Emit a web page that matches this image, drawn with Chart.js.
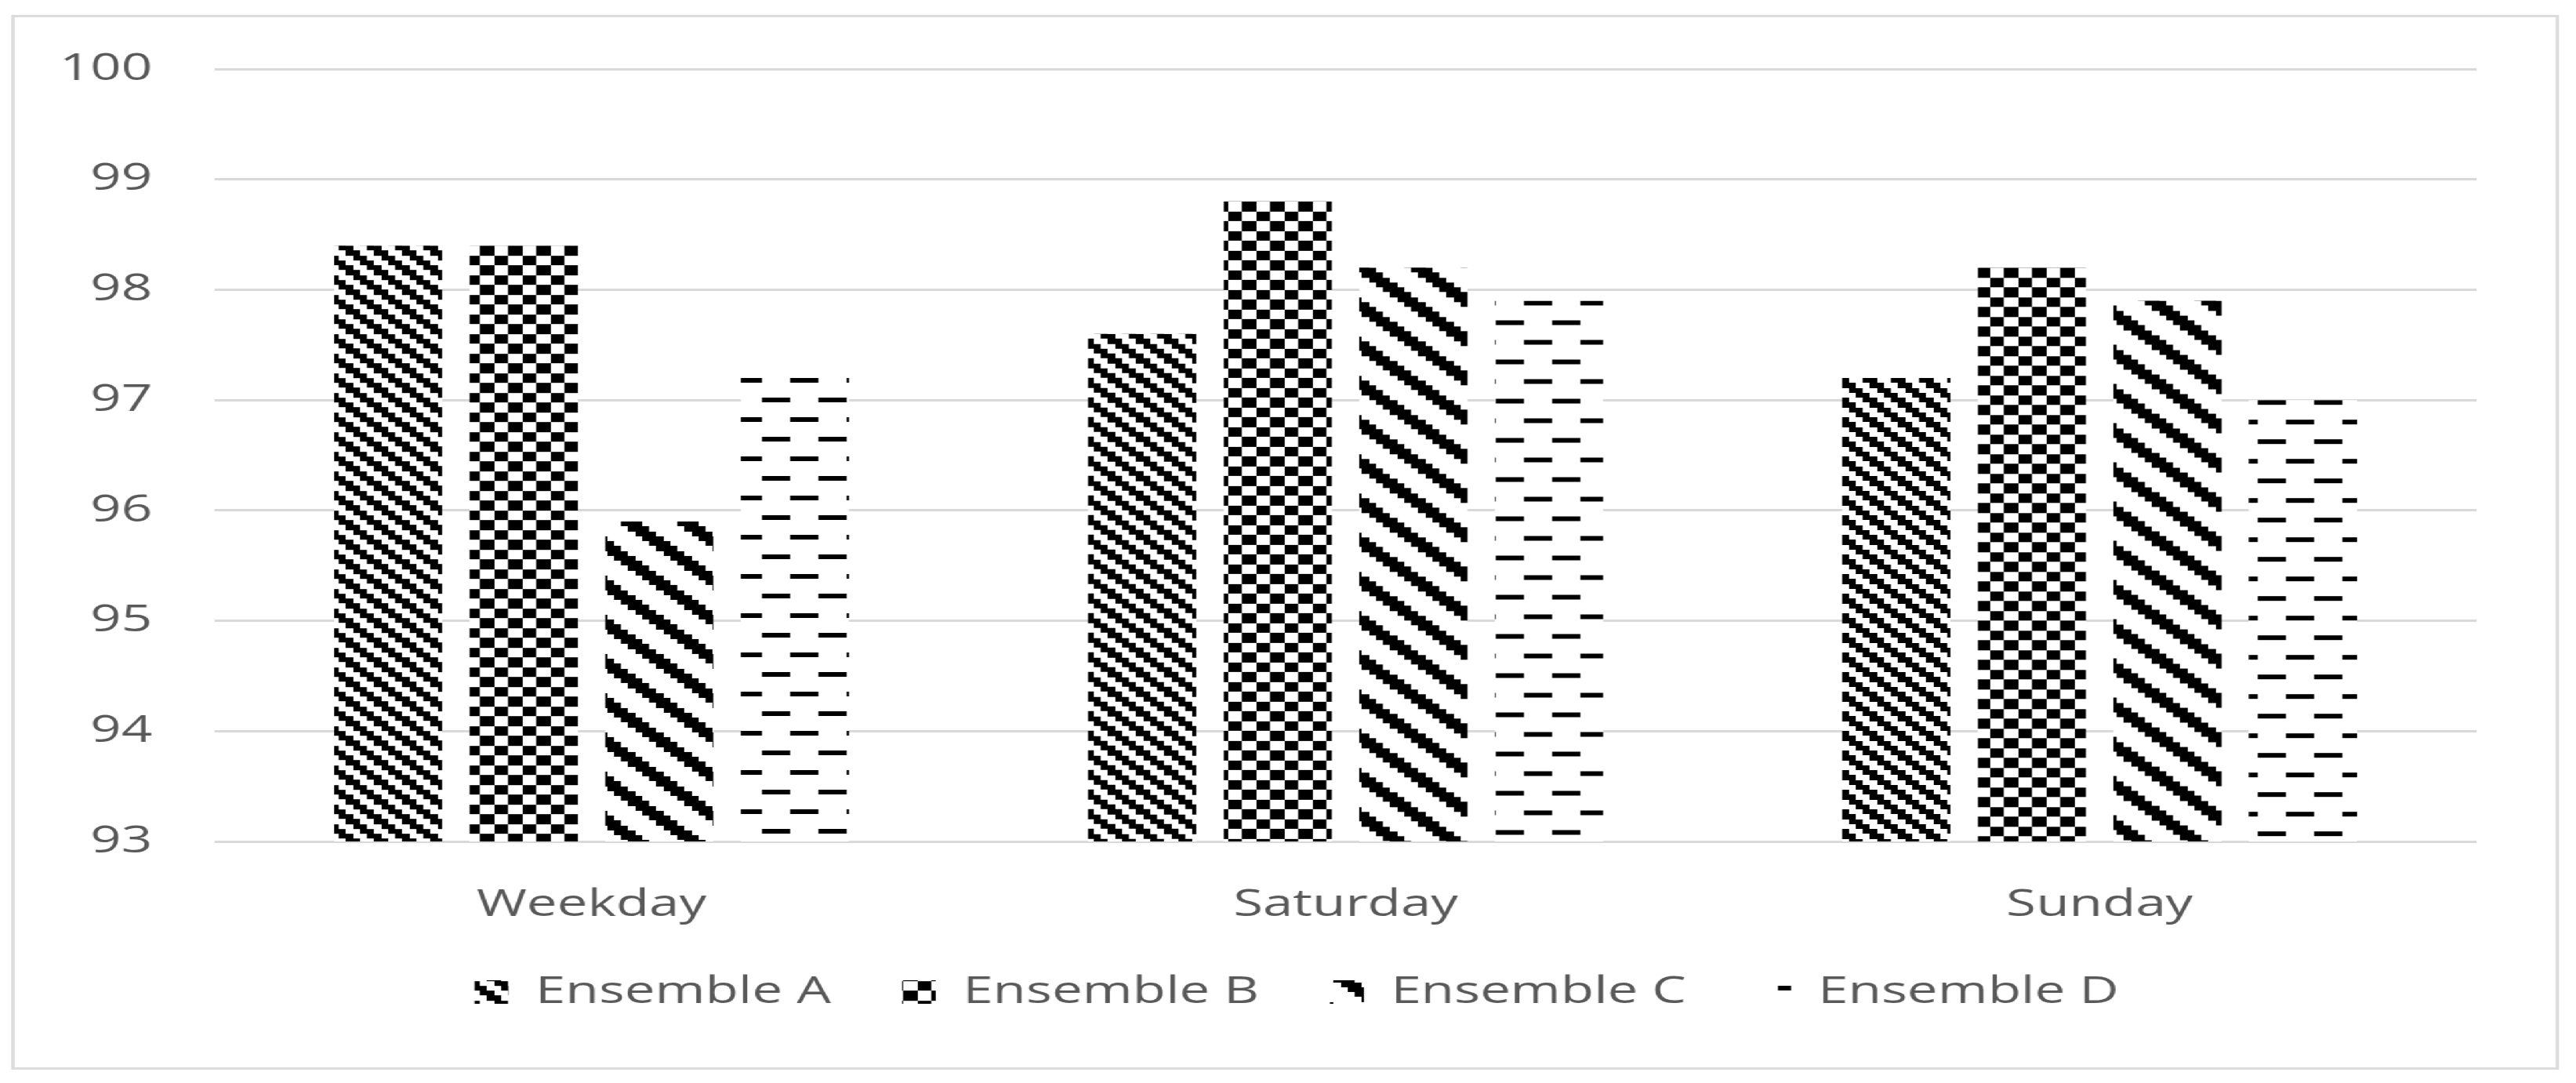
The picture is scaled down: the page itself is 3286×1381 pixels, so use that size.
<!DOCTYPE html>
<html>
<head>
    <title>Ensemble comparison</title>
    <style>
        html, body {
            margin: 0;
            padding: 0;
            background: #ffffff;
            overflow: hidden;
        }
        /* the original picture is stretched sideways, so draw narrow and scale */
        #stage {
            position: relative;
            width: 2282px;
            height: 1381px;
            transform: scaleX(1.44);
            transform-origin: 0 0;
        }
        #frame {
            position: absolute;
            left: 10px;
            top: 19px;
            width: 2257px;
            height: 1345px;
            box-sizing: border-box;
            border: 3px solid #dcdcdc;
        }
        canvas {
            position: absolute;
            left: 0;
            top: 0;
        }
    </style>
    <script src="https://cdn.jsdelivr.net/npm/chart.js"></script>
</head>
<body>
    <div id="stage">
        <div id="frame"></div>
        <canvas id="chart" width="2282" height="1381"></canvas>
    </div>
    <script>
        const categories = ['Weekday', 'Saturday', 'Sunday'];
        const seriesNames = ['Ensemble A', 'Ensemble B', 'Ensemble C', 'Ensemble D'];
        const ensembleA = [98.4, 97.6, 97.2];
        const ensembleB = [98.4, 98.8, 98.2];
        const ensembleC = [95.9, 98.2, 97.9];
        const ensembleD = [97.2, 97.9, 97.0];
        const yTickValues = [93, 94, 95, 96, 97, 98, 99, 100];

        const textColor = '#595959';
        Chart.defaults.font.family = "'Open Sans', sans-serif";

        const ctx = document.getElementById('chart').getContext('2d');

        // 8x8 Excel-like fill patterns, each pattern pixel blown up to 6.25px
        function makeTile(isOn) {
            const cell = 6.25;
            const size = 8 * cell;
            const tile = document.createElement('canvas');
            tile.width = size;
            tile.height = size;
            const g = tile.getContext('2d');
            g.fillStyle = '#ffffff';
            g.fillRect(0, 0, size, size);
            g.fillStyle = '#000000';
            for (let y = 0; y < 8; y++) {
                for (let x = 0; x < 8; x++) {
                    if (!isOn(x, y)) continue;
                    const x0 = Math.round(x * cell);
                    const y0 = Math.round(y * cell);
                    g.fillRect(x0, y0, Math.round((x + 1) * cell) - x0, Math.round((y + 1) * cell) - y0);
                }
            }
            return tile;
        }

        const tiles = [
            makeTile((x, y) => (x - y + 8) % 4 < 2),                    // dark downward diagonal
            makeTile((x, y) => ((x >> 1) + (y >> 1)) % 2 === 0),        // small checker board
            makeTile((x, y) => (x - y + 8) % 8 < 3),                    // wide downward diagonal
            makeTile((x, y) => (y === 0 && x < 4) || (y === 4 && x >= 4)) // dashed horizontal
        ];

        // pattern starts at the top of each bar, like Excel does
        function barFill(tile) {
            return function(context) {
                const pattern = ctx.createPattern(tile, 'repeat');
                const yScale = context.chart.scales.y;
                if (yScale && typeof context.raw === 'number') {
                    const top = yScale.getPixelForValue(context.raw);
                    pattern.setTransform(new DOMMatrix().translateSelf(0, top));
                }
                return pattern;
            };
        }

        const seriesValues = [ensembleA, ensembleB, ensembleC, ensembleD];

        new Chart(ctx, {
            type: 'bar',
            data: {
                labels: categories,
                datasets: seriesNames.map((name, i) => ({
                    label: name,
                    data: seriesValues[i],
                    backgroundColor: barFill(tiles[i]),
                    borderWidth: 0,
                    yAxisID: 'y'
                }))
            },
            options: {
                responsive: false,
                animation: false,
                devicePixelRatio: 1,
                layout: {
                    padding: { left: 45, right: 5, top: 88, bottom: 82 }
                },
                datasets: {
                    bar: {
                        categoryPercentage: 0.719,
                        barPercentage: 0.798
                    }
                },
                scales: {
                    x: {
                        grid: { display: false },
                        border: { display: false },
                        ticks: {
                            color: textColor,
                            font: { size: 48 },
                            padding: 45
                        },
                        afterFit: function(scale) {
                            scale.height = 130;
                        }
                    },
                    y: {
                        min: yTickValues[0],
                        max: yTickValues[yTickValues.length - 1],
                        grid: {
                            color: '#d9d9d9',
                            lineWidth: 3,
                            drawTicks: false
                        },
                        border: { display: false },
                        ticks: {
                            stepSize: 1,
                            color: textColor,
                            font: { size: 48 },
                            padding: 55
                        },
                        afterFit: function(scale) {
                            scale.width = 145;
                        }
                    },
                    // empty spacer on the right so the legend centres like the original
                    yRight: {
                        position: 'right',
                        grid: { display: false },
                        border: { display: false },
                        ticks: { display: false },
                        afterFit: function(scale) {
                            scale.width = 83;
                        }
                    }
                },
                plugins: {
                    legend: {
                        position: 'bottom',
                        labels: {
                            boxWidth: 30,
                            boxHeight: 30,
                            padding: 38,
                            color: textColor,
                            font: { size: 48 },
                            // trailing spaces widen the gap between entries
                            generateLabels: function(chart) {
                                const items = Chart.defaults.plugins.legend.labels.generateLabels(chart);
                                items.forEach(item => { item.text = item.text + '  '; });
                                return items;
                            }
                        }
                    },
                    tooltip: { enabled: false }
                }
            }
        });
    </script>
</body>
</html>
